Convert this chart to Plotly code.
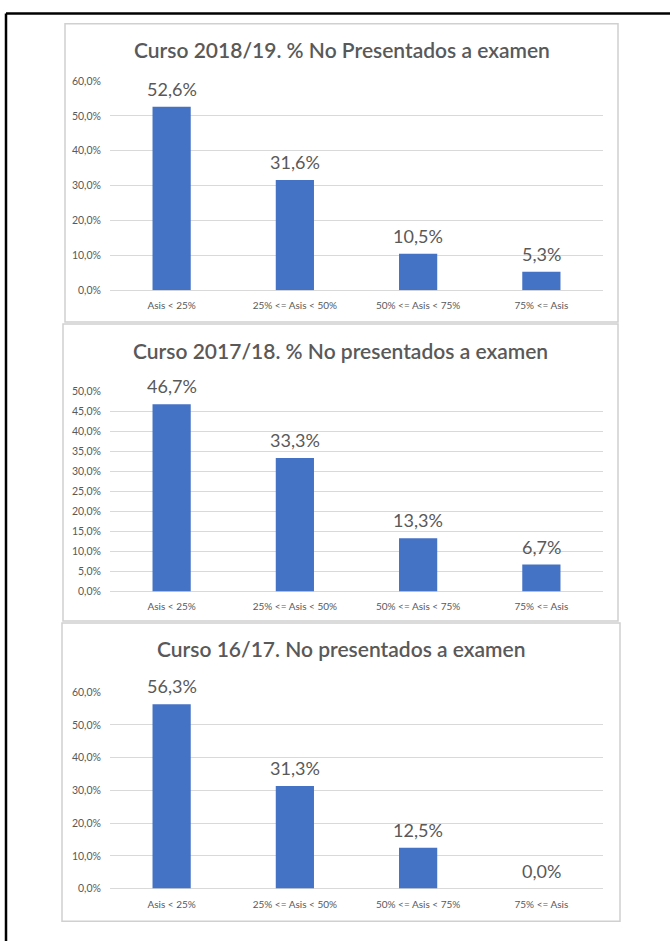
import plotly.graph_objects as go

# --- data ---
categorias = ["Asis < 25%", "25% <= Asis < 50%", "50% <= Asis < 75%", "75% <= Asis"]

titulo_1819 = "Curso 2018/19. % No Presentados a examen"
valores_1819 = [52.6, 31.6, 10.5, 5.3]

titulo_1718 = "Curso 2017/18. % No presentados a examen"
valores_1718 = [46.7, 33.3, 13.3, 6.7]

titulo_1617 = "Curso 16/17. No presentados a examen"
valores_1617 = [56.3, 31.3, 12.5, 0.0]

W, H = 670, 941
GRIS = "#595959"
AZUL = "#4472C4"
FUENTE = "Lato"


def py(px):
    # pixel row -> paper y
    return 1 - px / H


# panel boxes (px), plot areas (px), y ranges
paneles = [
    dict(titulo=titulo_1819, valores=valores_1819, caja=(65, 18, 618, 320),
         area=(110, 76, 603, 288), ymax=60, dtick=10, ty=44),
    dict(titulo=titulo_1718, valores=valores_1718, caja=(63, 322, 618, 623),
         area=(110, 390, 603, 593), ymax=50, dtick=5, ty=349),
    dict(titulo=titulo_1617, valores=valores_1617, caja=(62, 625, 620, 927),
         area=(110, 695, 603, 894), ymax=60, dtick=10, ty=651),
]

fig = go.Figure()
shapes = []
annotations = []

for i, p in enumerate(paneles, start=1):
    xa = "x" if i == 1 else f"x{i}"
    ya = "y" if i == 1 else f"y{i}"
    fig.add_trace(go.Bar(
        x=categorias, y=p["valores"], xaxis=xa, yaxis=ya,
        marker=dict(color=AZUL, line=dict(width=0)),
        showlegend=False, width=0.31, hoverinfo="x+y",
    ))
    # data labels above each bar
    for cat, v in zip(categorias, p["valores"]):
        annotations.append(dict(
            x=cat, y=v, xref=xa, yref=ya, text=f"{v:.1f}%".replace(".", ","),
            showarrow=False, xanchor="center", yanchor="bottom", yshift=5,
            font=dict(size=18, color=GRIS, family=FUENTE),
        ))
    x0, y0, x1, y1 = p["area"]
    key = "" if i == 1 else str(i)
    fig.layout["xaxis" + key] = dict(
        domain=[x0 / W, x1 / W], anchor=ya, showgrid=False, showline=False,
        ticks="", tickfont=dict(size=10, color=GRIS, family=FUENTE),
        ticklabelstandoff=8, fixedrange=True,
    )
    fig.layout["yaxis" + key] = dict(
        domain=[py(y1), py(y0)], anchor=xa, range=[0, p["ymax"]], dtick=p["dtick"],
        tickformat=".1f", ticksuffix="%", showgrid=True, gridcolor="#D9D9D9",
        gridwidth=1, zeroline=True, zerolinecolor="#D9D9D9", zerolinewidth=1,
        showline=False, ticks="", tickfont=dict(size=10.5, color=GRIS, family=FUENTE),
        ticklabelstandoff=8, fixedrange=True,
    )
    bx0, by0, bx1, by1 = p["caja"]
    shapes.append(dict(type="rect", xref="paper", yref="paper",
                       x0=bx0 / W, x1=bx1 / W, y0=py(by1), y1=py(by0),
                       line=dict(color="#D0D0D0", width=1.5), fillcolor="white",
                       layer="below"))
    annotations.append(dict(text=p["titulo"], xref="paper", yref="paper",
                            x=(bx0 + bx1) / 2 / W, y=py(p["ty"]), showarrow=False,
                            xanchor="center", yanchor="middle",
                            font=dict(size=21, color=GRIS, family="Lato Semibold, Lato")))

# outer black frame (only top and left visible in the source)
shapes.append(dict(type="line", xref="paper", yref="paper",
                   x0=6 / W, x1=1.02, y0=py(7.5), y1=py(7.5),
                   line=dict(color="black", width=2.5)))
shapes.append(dict(type="line", xref="paper", yref="paper",
                   x0=6 / W, x1=6 / W, y0=py(7.5), y1=-0.02,
                   line=dict(color="black", width=2.5)))

fig.update_layout(
    width=W, height=H, margin=dict(l=0, r=0, t=0, b=0),
    paper_bgcolor="white", plot_bgcolor="rgba(0,0,0,0)",
    separators=",.", shapes=shapes, annotations=annotations,
    font=dict(family=FUENTE, color=GRIS),
)

fig.write_html("out.html", config={"displayModeBar": False},
               post_script="document.body.style.margin='0px';")
